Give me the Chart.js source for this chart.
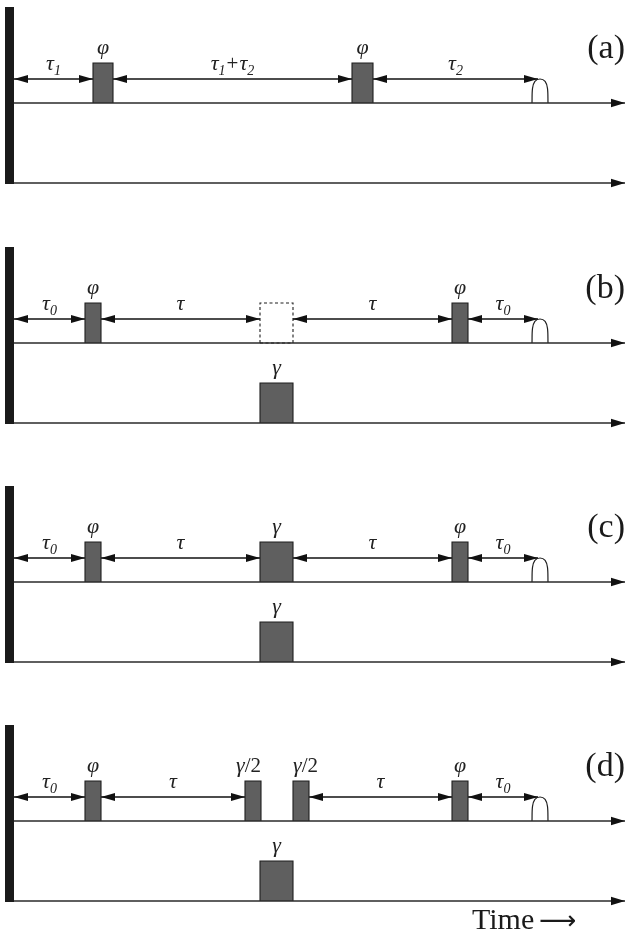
<!DOCTYPE html>
<html lang="en">
  <head>
    <meta charset="UTF-8" />
    <script src="https://cdn.jsdelivr.net/npm/chart.js@4.4.1/dist/chart.umd.min.js"></script>
    <style>
      body { margin: 0; background: #fff; }
      #wrap { width: 628px; height: 935px; }
    </style>
  </head>
  <body>
    <div id="wrap"><canvas id="seq"></canvas></div>

    <script>
      // Diagram. x = time units (0 = the wall), y = diagram units (down)
      const panelNames = ["(a)", "(b)", "(c)", "(d)"];
      const rfLine = [103, 343, 582, 821]; // upper channel per panel
      const gLine = [183, 423, 662, 901]; // lower channel per panel
      const wallTop = [7, 247, 486, 725];
      const axisEnd = 611;
      const pulseAmp = 40;
      const echoStart = 518;
      const echoEnd = 534;
      const echoAmp = 24;
      const delayOffset = 24; // how far above the line the delay arrows sit

      // [panel, start, end, label, label alignment]
      const rfPulses = [
        [0, 79, 99, "φ", "center"],
        [0, 338, 359, "φ", "center"],
        [1, 71, 87, "φ", "center"],
        [1, 438, 454, "φ", "center"],
        [2, 71, 87, "φ", "center"],
        [2, 246, 279, "γ", "center"],
        [2, 438, 454, "φ", "center"],
        [3, 71, 87, "φ", "center"],
        [3, 231, 247, "γ/2", "right"],
        [3, 279, 295, "γ/2", "left"],
        [3, 438, 454, "φ", "center"],
      ];
      const emptyPulses = [[1, 246, 279]];
      const gPulses = [
        [1, 246, 279, "γ"],
        [2, 246, 279, "γ"],
        [3, 246, 279, "γ"],
      ];
      // [panel, from, to, label]
      const delays = [
        [0, 0, 79, "τ_1"],
        [0, 99, 338, "τ_1+τ_2"],
        [0, 359, 524, "τ_2"],
        [1, 0, 71, "τ_0"],
        [1, 87, 246, "τ"],
        [1, 279, 438, "τ"],
        [1, 454, 524, "τ_0"],
        [2, 0, 71, "τ_0"],
        [2, 87, 246, "τ"],
        [2, 279, 438, "τ"],
        [2, 454, 524, "τ_0"],
        [3, 0, 71, "τ_0"],
        [3, 87, 231, "τ"],
        [3, 295, 438, "τ"],
        [3, 454, 524, "τ_0"],
      ];
      // echo outline as fractions of its width / height
      const echoShapeX = [0, 0.03, 0.18, 0.5, 0.82, 0.97, 1];
      const echoShapeY = [0, 0.6, 0.9, 1, 0.9, 0.6, 0];

      const serif = "'Liberation Serif', 'DejaVu Serif', serif";
      const ink = "#1e1e1e";
      const pulseFill = "#5f5f5f";

      const datasets = [];
      const base = { type: "line", pointRadius: 0, clip: false, fill: false, tension: 0 };

      panelNames.forEach((name, p) => {
        // rf and gradient channel axes
        [rfLine[p], gLine[p]].forEach((y) => {
          datasets.push({
            ...base,
            data: [{ x: 0, y: y }, { x: axisEnd, y: y }],
            borderColor: "#2a2a2a",
            borderWidth: 1.6,
            arrowHead: "end",
          });
        });
        // thick wall on the left
        datasets.push({
          ...base,
          data: [{ x: -4.5, y: wallTop[p] }, { x: -4.5, y: gLine[p] + 1 }],
          borderColor: "#1a1a1a",
          borderWidth: 9,
          borderCapStyle: "butt",
        });
        // echo
        const y = rfLine[p];
        datasets.push({
          ...base,
          data: echoShapeX.map((f, k) => ({
            x: echoStart + f * (echoEnd - echoStart),
            y: y - echoShapeY[k] * echoAmp,
          })),
          tension: 0.3,
          borderColor: ink,
          borderWidth: 1.2,
        });
      });

      function rect(x0, x1, y, h) {
        return [
          { x: x0, y: y },
          { x: x0, y: y - h },
          { x: x1, y: y - h },
          { x: x1, y: y },
        ];
      }

      rfPulses.forEach(([p, s, e]) => {
        datasets.push({
          ...base,
          data: rect(s, e, rfLine[p], pulseAmp),
          fill: { value: rfLine[p] },
          backgroundColor: pulseFill,
          borderColor: ink,
          borderWidth: 1.1,
        });
      });
      gPulses.forEach(([p, s, e]) => {
        datasets.push({
          ...base,
          data: rect(s, e, gLine[p], pulseAmp),
          fill: { value: gLine[p] },
          backgroundColor: pulseFill,
          borderColor: ink,
          borderWidth: 1.1,
        });
      });
      emptyPulses.forEach(([p, s, e]) => {
        const pts = rect(s, e, rfLine[p], pulseAmp);
        pts.push({ x: s, y: rfLine[p] });
        datasets.push({
          ...base,
          data: pts,
          borderColor: ink,
          borderWidth: 1.1,
          borderDash: [3, 2.5],
        });
      });
      delays.forEach(([p, s, e]) => {
        const y = rfLine[p] - delayOffset;
        datasets.push({
          ...base,
          data: [{ x: s, y: y }, { x: e, y: y }],
          borderColor: "#111",
          borderWidth: 1.3,
          arrowHead: "both",
        });
      });

      // arrow heads on lines marked with arrowHead
      function head(ctx, tip, from, len, half) {
        const dx = tip.x - from.x;
        const dy = tip.y - from.y;
        const d = Math.hypot(dx, dy) || 1;
        const ux = dx / d, uy = dy / d;
        const bx = tip.x - ux * len, by = tip.y - uy * len;
        ctx.beginPath();
        ctx.moveTo(tip.x, tip.y);
        ctx.lineTo(bx - uy * half, by + ux * half);
        ctx.lineTo(bx + uy * half, by - ux * half);
        ctx.closePath();
        ctx.fill();
      }

      function drawMath(ctx, str, x, y, align) {
        const parts = [];
        for (let i = 0; i < str.length; i++) {
          if (str[i] === "_") {
            parts.push({ s: str[i + 1], sub: true });
            i++;
          } else {
            parts.push({ s: str[i], sub: false });
          }
        }
        const fontFor = (pt) => {
          if (pt.sub) return "italic 14px " + serif;
          if (pt.s === "+" || pt.s === "/" || pt.s === "2") return "21px " + serif;
          return "italic 22px " + serif;
        };
        let w = 0;
        parts.forEach((pt) => {
          ctx.font = fontFor(pt);
          pt.w = ctx.measureText(pt.s).width + (pt.s === "+" ? 2 : 0);
          w += pt.w;
        });
        let cx = align === "left" ? x : align === "right" ? x - w : x - w / 2;
        parts.forEach((pt) => {
          ctx.font = fontFor(pt);
          ctx.fillText(pt.s, cx + (pt.s === "+" ? 1 : 0), pt.sub ? y + 5 : y);
          cx += pt.w;
        });
      }

      const decorPlugin = {
        id: "decor",
        afterDatasetsDraw(chart) {
          const ctx = chart.ctx;
          const xs = chart.scales.x;
          const ys = chart.scales.y;
          ctx.save();
          ctx.fillStyle = "#111";
          chart.data.datasets.forEach((ds, i) => {
            if (!ds.arrowHead) return;
            const pts = chart.getDatasetMeta(i).data;
            const a = pts[0], b = pts[pts.length - 1];
            if (ds.arrowHead === "end") {
              head(ctx, b, a, 14, 4.2);
            } else {
              head(ctx, b, a, 14, 4);
              head(ctx, a, b, 14, 4);
            }
          });

          ctx.fillStyle = "#222";
          ctx.textBaseline = "alphabetic";
          rfPulses.forEach(([p, s, e, label, align]) => {
            const x = align === "left" ? s : align === "right" ? e : (s + e) / 2;
            drawMath(ctx, label, xs.getPixelForValue(x), ys.getPixelForValue(rfLine[p] - pulseAmp - 9), align);
          });
          gPulses.forEach(([p, s, e, label]) => {
            drawMath(ctx, label, xs.getPixelForValue((s + e) / 2), ys.getPixelForValue(gLine[p] - pulseAmp - 9), "center");
          });
          delays.forEach(([p, s, e, label]) => {
            drawMath(ctx, label, xs.getPixelForValue((s + e) / 2), ys.getPixelForValue(rfLine[p] - delayOffset - 9), "center");
          });

          ctx.fillStyle = "#1a1a1a";
          ctx.font = "34px " + serif;
          ctx.textAlign = "right";
          ctx.textBaseline = "middle";
          panelNames.forEach((name, p) => {
            ctx.fillText(name, xs.getPixelForValue(axisEnd), ys.getPixelForValue(rfLine[p] - 54));
          });

          ctx.textAlign = "left";
          ctx.textBaseline = "alphabetic";
          ctx.font = "30px " + serif;
          ctx.fillText("Time", xs.getPixelForValue(458), ys.getPixelForValue(929));
          ctx.font = "26px 'DejaVu Sans', " + serif;
          ctx.fillText("⟶", xs.getPixelForValue(525), ys.getPixelForValue(929));
          ctx.restore();
        },
      };

      new Chart(document.getElementById("seq"), {
        type: "scatter",
        data: { datasets: datasets },
        options: {
          responsive: true,
          maintainAspectRatio: false,
          animation: false,
          events: [],
          layout: { padding: 0 },
          plugins: { legend: { display: false }, tooltip: { enabled: false } },
          scales: {
            x: { type: "linear", min: -14, max: 614, display: false },
            y: { type: "linear", min: 0, max: 935, reverse: true, display: false },
          },
        },
        plugins: [decorPlugin],
      });
    </script>
  </body>
</html>
